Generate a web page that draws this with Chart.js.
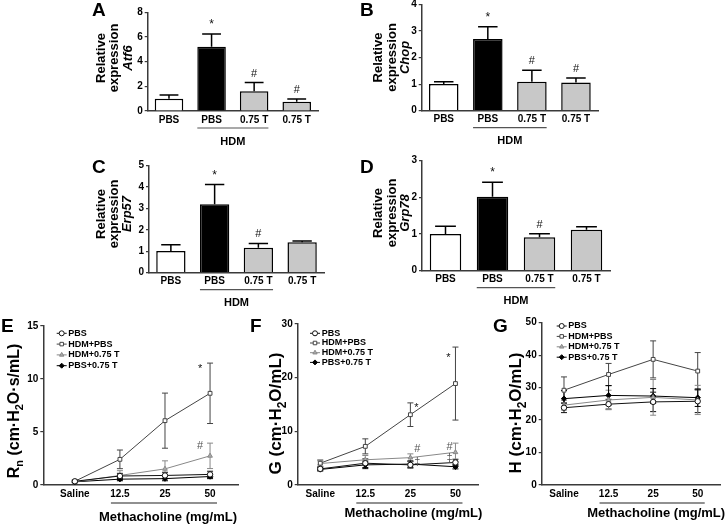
<!DOCTYPE html>
<html><head><meta charset="utf-8">
<script src="https://cdn.jsdelivr.net/npm/chart.js@4.4.1/dist/chart.umd.min.js"></script>
<style>
html,body{margin:0;padding:0;background:#fff;}
#page{position:relative;width:725px;height:524px;overflow:hidden;background:#fff;}
canvas{position:absolute;}
</style></head><body><div id="page"></div>
<script>
// ---------------- data ----------------
const barCategories = ['PBS', 'PBS', '0.75 T', '0.75 T'];

const atf6Values = [1.0, 5.2, 1.6, 0.75];
const atf6Errors = [0.3, 1.05, 0.7, 0.22];
const atf6Marks  = ['', '*', '#', '#'];

const chopValues = [1.0, 2.7, 1.09, 1.06];
const chopErrors = [0.09, 0.46, 0.43, 0.17];
const chopMarks  = ['', '*', '#', '#'];

const erp57Values = [1.01, 3.2, 1.17, 1.42];
const erp57Errors = [0.3, 0.92, 0.2, 0.06];
const erp57Marks  = ['', '*', '#', ''];

const grp78Values = [1.0, 2.02, 0.91, 1.12];
const grp78Errors = [0.21, 0.39, 0.1, 0.08];
const grp78Marks  = ['', '*', '#', ''];

const doseLabels = ['Saline', '12.5', '25', '50'];
const groupNames = ['PBS', 'HDM+PBS', 'HDM+0.75 T', 'PBS+0.75 T'];

// Rn (panel E)
const rnPBS      = [0.35, 0.85, 0.9, 1.0];
const rnHDM      = [0.35, 2.42, 6.07, 8.65];
const rnHDMT     = [0.3, 0.9, 1.52, 2.75];
const rnPBST     = [0.3, 0.55, 0.6, 0.8];
const rnPBSErr   = [0.1, 0.25, 0.3, 0.3];
const rnHDMErr   = [0.12, 0.88, 2.6, 2.85];
const rnHDMTErr  = [0.08, 0.45, 0.76, 1.2];
const rnPBSTErr  = [0.08, 0.15, 0.2, 0.2];

// G (panel F)
const gPBS       = [3.0, 4.06, 3.75, 4.2];
const gHDM       = [4.06, 7.2, 13.1, 18.9];
const gHDMT      = [4.0, 4.7, 5.1, 6.1];
const gPBST      = [2.9, 3.75, 3.9, 3.4];
const gPBSErr    = [0.3, 0.8, 0.6, 0.6];
const gHDMErr    = [0.6, 1.4, 2.2, 6.8];
const gHDMTErr   = [0.5, 0.8, 0.7, 1.7];
const gPBSTErr   = [0.3, 0.7, 0.6, 0.4];

// H (panel G)
const hPBS       = [23.8, 24.9, 25.6, 25.8];
const hHDM       = [29.2, 34.05, 38.7, 35.1];
const hHDMT      = [24.6, 26.2, 27.0, 26.2];
const hPBST      = [26.6, 27.6, 27.4, 26.9];
const hPBSErr    = [1.5, 1.5, 3.0, 3.5];
const hHDMErr    = [4.1, 3.4, 5.7, 5.7];
const hHDMTErr   = [1.5, 3.0, 5.5, 4.5];
const hPBSTErr   = [2.5, 3.0, 2.3, 2.7];

// ---------------- styles ----------------
const FF = '"Liberation Sans", Arial, Helvetica, sans-serif';
const AX = '#3a3a3a';
const barFills = ['#ffffff', '#000000', '#c8c8c8', '#c8c8c8'];
const lineStyles = [
  {color:'#111', fill:'#ffffff', shape:'circle'},
  {color:'#444', fill:'#ffffff', shape:'rect'},
  {color:'#888', fill:'#aaaaaa', shape:'triangle'},
  {color:'#000', fill:'#000000', shape:'rectRot'}
];
Chart.defaults.font.family = FF;
Chart.defaults.color = '#000';

const page = document.getElementById('page');

function P(cfg, x, y) { return [x - cfg.box.x, y - cfg.box.y]; }
function yOf(d) { return (d !== null && typeof d === 'object') ? d.y : d; }
function text(ctx, s, x, y, font, align, base, color) {
  ctx.save(); ctx.font = font; ctx.textAlign = align || 'left';
  ctx.textBaseline = base || 'alphabetic'; ctx.fillStyle = color || '#000';
  ctx.fillText(s, x, y); ctx.restore();
}
function fontOf(p, size) {
  return (p.it ? 'italic ' : '') + 'bold ' + (p.sub ? Math.round(size * 0.68) : size) + 'px ' + FF;
}
function richVertical(ctx, pieces, x, y, size) {
  ctx.save(); ctx.translate(x, y); ctx.rotate(-Math.PI / 2);
  let total = 0;
  const ws = pieces.map(p => { ctx.font = fontOf(p, size); const w = ctx.measureText(p.t).width; total += w; return w; });
  let cx = -total / 2;
  ctx.fillStyle = '#000'; ctx.textBaseline = 'alphabetic'; ctx.textAlign = 'left';
  pieces.forEach((p, k) => { ctx.font = fontOf(p, size); ctx.fillText(p.t, cx, p.sub ? size * 0.28 : 0); cx += ws[k]; });
  ctx.restore();
}

function drawErrors(chart) {
  const cfg = chart.canvas.__cfg, ctx = chart.ctx, ys = chart.scales.y;
  chart.data.datasets.forEach((ds, i) => {
    const meta = chart.getDatasetMeta(i);
    const errs = cfg.kind === 'bar' ? cfg.errors : cfg.errors[i];
    const col = cfg.kind === 'bar' ? '#000' : ds.borderColor;
    meta.data.forEach((el, j) => {
      const v = yOf(ds.data[j]), e = errs[j];
      const yt = ys.getPixelForValue(v + e);
      const yb = cfg.kind === 'bar' ? el.y : ys.getPixelForValue(v - e);
      const cw = cfg.kind === 'bar' ? el.width * 0.33 : 3;
      ctx.save(); ctx.strokeStyle = col; ctx.lineWidth = cfg.kind === 'bar' ? 1.5 : 1;
      ctx.beginPath();
      ctx.moveTo(el.x, yb); ctx.lineTo(el.x, yt);
      ctx.moveTo(el.x - cw, yt); ctx.lineTo(el.x + cw, yt);
      if (cfg.kind !== 'bar') { ctx.moveTo(el.x - cw, yb); ctx.lineTo(el.x + cw, yb); }
      ctx.stroke(); ctx.restore();
    });
  });
}
function drawMarks(chart) {
  const cfg = chart.canvas.__cfg, ctx = chart.ctx, ys = chart.scales.y, xs = chart.scales.x;
  if (cfg.kind === 'bar') {
    const meta = chart.getDatasetMeta(0), ds = chart.data.datasets[0];
    meta.data.forEach((el, j) => {
      const m = cfg.marks[j]; if (!m) return;
      const yt = ys.getPixelForValue(ds.data[j] + cfg.errors[j]);
      text(ctx, m, el.x, yt - 6, (m === '*' ? '12px ' : '11px ') + FF, 'center', 'alphabetic', '#111');
    });
  } else {
    (cfg.notes || []).forEach(n => {
      const x = xs.getPixelForValue(n.cat) + n.dx;
      const y = ys.getPixelForValue(n.val) + (n.t === '*' ? 3 : 0);
      text(ctx, n.t, x, y, '11px ' + FF, 'center', 'middle', n.t === '*' ? '#111' : '#555');
    });
  }
}
function drawDecor(chart) {
  const cfg = chart.canvas.__cfg, ctx = chart.ctx, area = chart.chartArea;
  let [lx, ly] = P(cfg, cfg.letter.x, cfg.letter.y);
  text(ctx, cfg.letter.t, lx, ly, 'bold 19px ' + FF, 'left', 'alphabetic', '#000');
  cfg.ytitle.lines.forEach((line, k) => {
    const [tx, ty] = P(cfg, cfg.ytitle.xs[k], cfg.ytitle.cy);
    richVertical(ctx, line, tx, ty, cfg.ytitle.size);
  });
  ctx.save(); ctx.strokeStyle = '#555'; ctx.lineWidth = 1.2;
  if (cfg.kind === 'bar') {
    const meta = chart.getDatasetMeta(0);
    const e1 = meta.data[1], e2 = meta.data[2];
    const x1 = e1.x - e1.width / 2, x2 = e2.x + e2.width / 2, y = area.bottom + 17;
    ctx.beginPath(); ctx.moveTo(x1, y); ctx.lineTo(x2, y); ctx.stroke(); ctx.restore();
    text(ctx, 'HDM', (x1 + x2) / 2, y + 13.5, 'bold 11px ' + FF, 'center', 'middle', '#000');
  } else {
    const xs = chart.scales.x;
    const x1 = xs.getPixelForValue(1) - 9, x2 = xs.getPixelForValue(3) + 7, y = area.bottom + 18;
    ctx.strokeStyle = '#222';
    ctx.beginPath(); ctx.moveTo(x1, y); ctx.lineTo(x2, y); ctx.stroke(); ctx.restore();
    text(ctx, 'Methacholine (mg/mL)', (x1 + x2) / 2 + 4, y + 11 + cfg.mdy, 'bold 13px ' + FF, 'center', 'middle', '#000');
    const L = cfg.legend;
    chart.data.datasets.forEach((ds, k) => {
      const [mx, my] = P(cfg, L.mx, L.y0 + k * L.dy);
      const [tx] = P(cfg, L.tx, 0);
      ctx.save(); ctx.strokeStyle = ds.borderColor; ctx.lineWidth = 1;
      ctx.beginPath(); ctx.moveTo(mx - 5, my); ctx.lineTo(mx + 5, my); ctx.stroke();
      ctx.fillStyle = ds.pointBackgroundColor;
      Chart.helpers.drawPoint(ctx, {pointStyle: ds.pointStyle, radius: 2.5, rotation: 0, borderWidth: 1}, mx, my);
      ctx.restore();
      text(ctx, ds.label, tx, my, 'bold 9px ' + FF, 'left', 'middle', '#000');
    });
  }
}
const decor = {
  id: 'decor',
  beforeDatasetsDraw(chart) { if (chart.canvas.__cfg.kind !== 'bar') drawErrors(chart); },
  afterDatasetsDraw(chart) { if (chart.canvas.__cfg.kind === 'bar') drawErrors(chart); drawMarks(chart); },
  afterDraw(chart) { drawDecor(chart); }
};

function makeCanvas(cfg) {
  const cv = document.createElement('canvas');
  cv.width = cfg.box.w; cv.height = cfg.box.h;
  cv.style.left = cfg.box.x + 'px'; cv.style.top = cfg.box.y + 'px';
  cv.style.width = cfg.box.w + 'px'; cv.style.height = cfg.box.h + 'px';
  cv.__cfg = cfg; page.appendChild(cv);
  return cv;
}
const tickFont = {family: FF, size: 10, weight: 'bold'};
function scalesFor(cfg) {
  const b = cfg.box, a = cfg.area;
  const x = cfg.xLinear ? {
      type: 'linear', min: cfg.xLinear.min, max: cfg.xLinear.max,
      afterBuildTicks(s) { s.ticks = doseLabels.map((_, k) => ({value: k})); },
      ticks: {font: tickFont, color: '#000', padding: 3, maxRotation: 0, autoSkip: false,
              callback: v => doseLabels[v]},
    } : {
      type: 'category', offset: true,
      ticks: {font: tickFont, color: '#000', padding: 3, maxRotation: 0, autoSkip: false}
    };
  Object.assign(x, {
    grid: {display: false, drawTicks: false},
    border: {display: true, color: AX, width: 1.5},
    afterFit(s) { s.height = b.y + b.h - a.b; }
  });
  return {
    x,
    y: {
      min: 0, max: cfg.yMax,
      ticks: {stepSize: cfg.yStep, font: tickFont, color: '#000', padding: 2},
      grid: {display: true, drawOnChartArea: false, drawTicks: true, tickLength: 3, color: AX, lineWidth: 1.2},
      border: {display: true, color: AX, width: 1.5},
      afterFit(s) { s.width = a.l - b.x; }
    }
  };
}
function commonOptions(cfg) {
  const b = cfg.box, a = cfg.area;
  return {
    responsive: false, animation: false, events: [], devicePixelRatio: 1,
    layout: {padding: {left: 0, top: a.t - b.y, right: b.x + b.w - a.r, bottom: 0}},
    plugins: {legend: {display: false}, tooltip: {enabled: false}},
    scales: scalesFor(cfg)
  };
}
function barPanel(cfg) {
  cfg.kind = 'bar';
  const cv = makeCanvas(cfg);
  new Chart(cv, {
    type: 'bar',
    data: {labels: barCategories, datasets: [{
      data: cfg.values, backgroundColor: barFills, borderColor: '#000', borderWidth: 1.5,
      barPercentage: 0.67, categoryPercentage: 1
    }]},
    options: commonOptions(cfg),
    plugins: [decor]
  });
}
function linePanel(cfg) {
  cfg.kind = 'line';
  const cv = makeCanvas(cfg);
  new Chart(cv, {
    type: 'line',
    data: {labels: doseLabels, datasets: cfg.series.map((vals, k) => ({
      label: groupNames[k],
      data: cfg.xLinear ? vals.map((v, i) => ({x: i, y: v})) : vals,
      borderColor: lineStyles[k].color, backgroundColor: lineStyles[k].fill,
      pointBackgroundColor: lineStyles[k].fill, pointBorderColor: lineStyles[k].color,
      pointStyle: lineStyles[k].shape, pointRadius: 2.7, pointBorderWidth: 1,
      borderWidth: 1, tension: 0, fill: false
    }))},
    options: commonOptions(cfg),
    plugins: [decor]
  });
}

const geneTitle = g => [[{t: 'Relative'}], [{t: 'expression'}], [{t: g, it: 1}]];

barPanel({box: {x: 85, y: 0, w: 240, h: 150}, area: {l: 147.7, r: 318, t: 12.3, b: 111},
  values: atf6Values, errors: atf6Errors, marks: atf6Marks, yMax: 8, yStep: 2,
  letter: {t: 'A', x: 92, y: 16}, ytitle: {lines: geneTitle('Atf6'), xs: [105, 118, 132], cy: 58, size: 13}});
barPanel({box: {x: 355, y: -8, w: 255, h: 158}, area: {l: 421.7, r: 598, t: 4.3, b: 110.7},
  values: chopValues, errors: chopErrors, marks: chopMarks, yMax: 4, yStep: 1,
  letter: {t: 'B', x: 360, y: 16}, ytitle: {lines: geneTitle('Chop'), xs: [382, 395.5, 409], cy: 57.5, size: 13}});
barPanel({box: {x: 85, y: 150, w: 245, h: 165}, area: {l: 149, r: 324, t: 165.7, b: 272.7},
  values: erp57Values, errors: erp57Errors, marks: erp57Marks, yMax: 5, yStep: 1,
  letter: {t: 'C', x: 92, y: 173}, ytitle: {lines: geneTitle('Erp57'), xs: [105, 118, 131], cy: 214, size: 13}});
barPanel({box: {x: 355, y: 150, w: 260, h: 165}, area: {l: 422, r: 610, t: 160.7, b: 270.7},
  values: grp78Values, errors: grp78Errors, marks: grp78Marks, yMax: 3, yStep: 1,
  letter: {t: 'D', x: 360, y: 173}, ytitle: {lines: geneTitle('Grp78'), xs: [382, 395.5, 409], cy: 213, size: 13}});

linePanel({box: {x: 0, y: 312, w: 243, h: 212}, area: {l: 43.3, r: 238, t: 326, b: 485},
  xLinear: {min: -0.7, max: 3.62},
  series: [rnPBS, rnHDM, rnHDMT, rnPBST], errors: [rnPBSErr, rnHDMErr, rnHDMTErr, rnPBSTErr],
  yMax: 15, yStep: 5, mdy: 3,
  notes: [{cat: 3, val: 11.2, dx: -10, t: '*'}, {cat: 3, val: 3.7, dx: -10, t: '#'}],
  legend: {mx: 61.7, tx: 68.3, y0: 333.3, dy: 10.8},
  letter: {t: 'E', x: 1, y: 332},
  ytitle: {lines: [[{t: 'R'}, {t: 'n', sub: 1}, {t: ' (cm·H'}, {t: '2', sub: 1}, {t: 'O·s/mL)'}]], xs: [19], cy: 411, size: 16}});
linePanel({box: {x: 243, y: 312, w: 240, h: 212}, area: {l: 297.7, r: 480, t: 324, b: 485},
  series: [gPBS, gHDM, gHDMT, gPBST], errors: [gPBSErr, gHDMErr, gHDMTErr, gPBSTErr],
  yMax: 30, yStep: 10, mdy: -1,
  notes: [{cat: 2, val: 14.9, dx: 6, t: '*'}, {cat: 3, val: 24.2, dx: -7, t: '*'},
          {cat: 2, val: 6.65, dx: 7, t: '#'}, {cat: 3, val: 7.0, dx: -6, t: '#'},
          {cat: 2, val: 4.34, dx: 7, t: '‡'}, {cat: 3, val: 4.97, dx: -6, t: '‡'}],
  legend: {mx: 315, tx: 321.7, y0: 333.3, dy: 9.7},
  letter: {t: 'F', x: 250, y: 332},
  ytitle: {lines: [[{t: 'G (cm·H'}, {t: '2', sub: 1}, {t: 'O/mL)'}]], xs: [281], cy: 413.5, size: 17}});
linePanel({box: {x: 483, y: 312, w: 242, h: 212}, area: {l: 541.7, r: 724, t: 322.7, b: 485},
  series: [hPBS, hHDM, hHDMT, hPBST], errors: [hPBSErr, hHDMErr, hHDMTErr, hPBSTErr],
  yMax: 50, yStep: 10, mdy: -1,
  notes: [],
  legend: {mx: 561.7, tx: 568.3, y0: 326, dy: 10.4},
  letter: {t: 'G', x: 493, y: 332},
  ytitle: {lines: [[{t: 'H (cm·H'}, {t: '2', sub: 1}, {t: 'O/mL)'}]], xs: [521], cy: 413, size: 17}});
</script>
</body></html>
